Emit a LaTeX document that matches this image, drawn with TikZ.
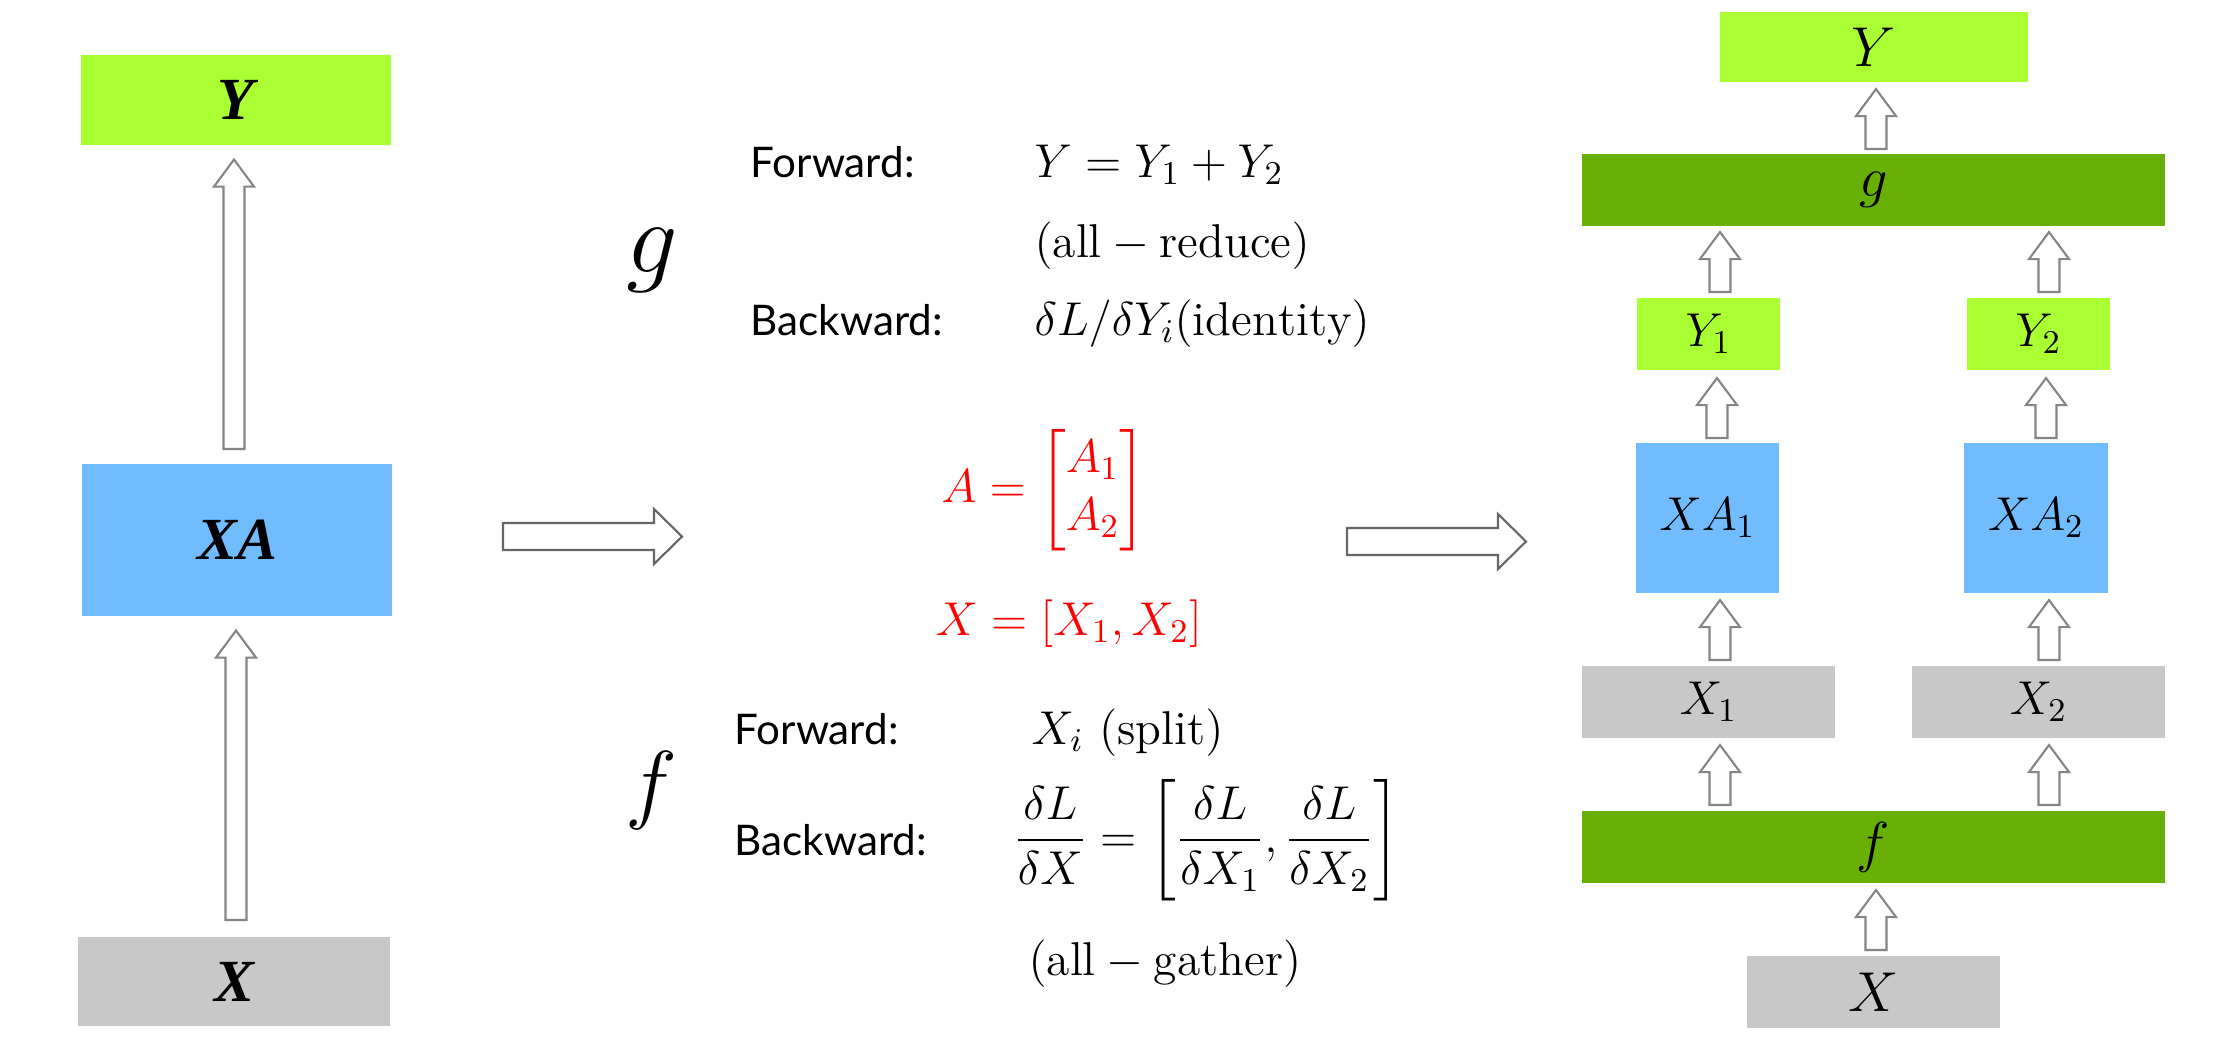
\RequirePackage{fix-cm}
\documentclass[tikz,border=0pt]{standalone}
\usepackage{amsmath}
\usepackage{fontspec}
\newfontfamily\gill{Lato}
\newfontfamily\tms{Liberation Serif}
\usetikzlibrary{calc}
\definecolor{lgreen}{HTML}{AAFF33}
\definecolor{dgreen}{HTML}{68AF06}
\definecolor{lblue}{HTML}{71BCFF}
\definecolor{lgray}{HTML}{C8C8C8}
\definecolor{arrv}{HTML}{858585}
\definecolor{arrh}{HTML}{666666}
\newcommand\bsw{0.105cm}
\newcommand\bhw{0.2cm}
\newcommand\bhl{0.27cm}
\newcommand\hsw{0.135cm}
\newcommand\hhw{0.275cm}
\newcommand\hhl{0.28cm}
% vertical hollow arrow: src, dst, x (px), tail gap, tip gap
\newcommand\blkup[5]{%
  \draw[blkv] let \p1=(#1.north), \p2=(#2.south), \p3=(#3,0) in
    (\x3-\bsw,\y1+#4) -- (\x3-\bsw,\y2-#5-\bhl) -- (\x3-\bhw,\y2-#5-\bhl) --
    (\x3,\y2-#5) -- (\x3+\bhw,\y2-#5-\bhl) -- (\x3+\bsw,\y2-#5-\bhl) --
    (\x3+\bsw,\y1+#4) -- cycle;}
% horizontal hollow arrow: from coordinate, to coordinate
\newcommand\blkright[2]{%
  \draw[blkh] let \p1=(#1), \p2=(#2) in
    (\x1,\y1+\hsw) -- (\x2-\hhl,\y1+\hsw) -- (\x2-\hhl,\y1+\hhw) -- (\x2,\y1) --
    (\x2-\hhl,\y1-\hhw) -- (\x2-\hhl,\y1-\hsw) -- (\x1,\y1-\hsw) -- cycle;}
\newcommand\msize{\fontsize{13.5}{16.5}\selectfont}
\tikzset{
  bx/.style={inner sep=0pt, outer sep=0pt},
  lbl/.style={font=\tms\bfseries\itshape\fontsize{17}{19}\selectfont},
  big/.style={font=\fontsize{16}{18}\selectfont},
  sml/.style={font=\msize},
  blkv/.style={draw=arrv, fill=white, line width=0.6pt, line join=miter},
  blkh/.style={draw=arrh, fill=white, line width=0.6pt, line join=miter},
  sanslbl/.style={anchor=base west, inner sep=0pt, font=\gill\fontsize{12}{14}\selectfont},
  mtxt/.style={anchor=base west, inner sep=0pt, font=\msize},
  redtxt/.style={anchor=base west, inner sep=0pt, font=\msize, text=red},
}
\begin{document}
\begin{tikzpicture}[x=0.01cm, y=-0.01cm]
\useasboundingbox (0,0) rectangle (2218,1050);
\fill[white] (0,0) rectangle (2218,1050);

% ---------- left column ----------
\node[bx, fill=lgreen, minimum width=3.10cm, minimum height=0.90cm, lbl] (LY) at (236,100) {Y};
\node[bx, fill=lblue, minimum width=3.10cm, minimum height=1.52cm, lbl] (LXA) at (237,540) {XA};
\node[bx, fill=lgray, minimum width=3.12cm, minimum height=0.89cm, lbl] (LX) at (234,981.5) {X};
\blkup{LXA}{LY}{234}{0.15cm}{0.145cm}
\blkup{LX}{LXA}{236}{0.17cm}{0.145cm}

% ---------- horizontal arrows ----------
\coordinate (h1a) at (503,536.5);
\coordinate (h1b) at (682,536.5);
\coordinate (h2a) at (1347,541.5);
\coordinate (h2b) at (1526,541.5);
\blkright{h1a}{h1b}
\blkright{h2a}{h2b}

% ---------- middle text ----------
\node[anchor=base, inner sep=0pt, font=\fontsize{29}{30}\selectfont] (gbig) at (652,272) {$g$};
\node[anchor=base, inner sep=0pt, font=\fontsize{25}{27}\selectfont] (fbig) at (651,812) {$f$};

\node[sanslbl] (gfw) at (750,177) {Forward:};
\node[mtxt] (gfwm) at (1034,177) {$Y = Y_1 + Y_2$};
\node[mtxt] (gred) at (1034,257) {$(\mathrm{all} - \mathrm{reduce})$};
\node[sanslbl] (gbw) at (750,335) {Backward:};
\node[mtxt] (gbwm) at (1034,335) {$\delta L/\delta Y_i(\mathrm{identity})$};

\node[redtxt] (Adef) at (941,502) {$A = \begin{bmatrix} A_1 \\ A_2 \end{bmatrix}$};
\node[redtxt] (Xdef) at (935,635) {$X = [X_1, X_2]$};

\node[sanslbl] (ffw) at (734,744) {Forward:};
\node[mtxt] (ffwm) at (1031,744) {$X_i\ (\mathrm{split})$};
\node[sanslbl] (fbw) at (734,855) {Backward:};
\node[mtxt] (fbwm) at (1013,852) {$\dfrac{\delta L}{\delta X} = \left[\dfrac{\delta L}{\delta X_1}, \dfrac{\delta L}{\delta X_2}\right]$};
\node[mtxt] (fga) at (1028,975) {$(\mathrm{all} - \mathrm{gather})$};

% ---------- right column ----------
\node[bx, fill=lgreen, minimum width=3.08cm, minimum height=0.70cm, big] (RY) at (1874,47) {$Y$};
\node[bx, fill=dgreen, minimum width=5.83cm, minimum height=0.72cm, big] (Rg) at (1873.5,190) {$g$};
\node[bx, fill=lgreen, minimum width=1.43cm, minimum height=0.72cm, sml] (RY1) at (1708.5,334) {$Y_1$};
\node[bx, fill=lgreen, minimum width=1.43cm, minimum height=0.72cm, sml] (RY2) at (2038.5,334) {$Y_2$};
\node[bx, fill=lblue, minimum width=1.43cm, minimum height=1.50cm, sml] (RXA1) at (1707.5,518) {$XA_1$};
\node[bx, fill=lblue, minimum width=1.43cm, minimum height=1.50cm, sml] (RXA2) at (2036,518) {$XA_2$};
\node[bx, fill=lgray, minimum width=2.53cm, minimum height=0.72cm, sml] (RX1) at (1708.5,702) {$X_1$};
\node[bx, fill=lgray, minimum width=2.53cm, minimum height=0.72cm, sml] (RX2) at (2038.5,702) {$X_2$};
\node[bx, fill=dgreen, minimum width=5.83cm, minimum height=0.72cm, big] (Rf) at (1873.5,847) {$f$};
\node[bx, fill=lgray, minimum width=2.53cm, minimum height=0.72cm, big] (RX) at (1873.5,992) {$X$};

\blkup{RX}{Rf}{1876}{0.06cm}{0.07cm}
\blkup{Rf}{RX1}{1720}{0.06cm}{0.07cm}
\blkup{Rf}{RX2}{2049}{0.06cm}{0.07cm}
\blkup{RX1}{RXA1}{1720}{0.06cm}{0.07cm}
\blkup{RX2}{RXA2}{2049}{0.06cm}{0.07cm}
\blkup{RXA1}{RY1}{1717}{0.05cm}{0.08cm}
\blkup{RXA2}{RY2}{2046}{0.05cm}{0.08cm}
\blkup{RY1}{Rg}{1720}{0.06cm}{0.06cm}
\blkup{RY2}{Rg}{2049}{0.06cm}{0.06cm}
\blkup{Rg}{RY}{1876}{0.05cm}{0.07cm}
\end{tikzpicture}
\end{document}
